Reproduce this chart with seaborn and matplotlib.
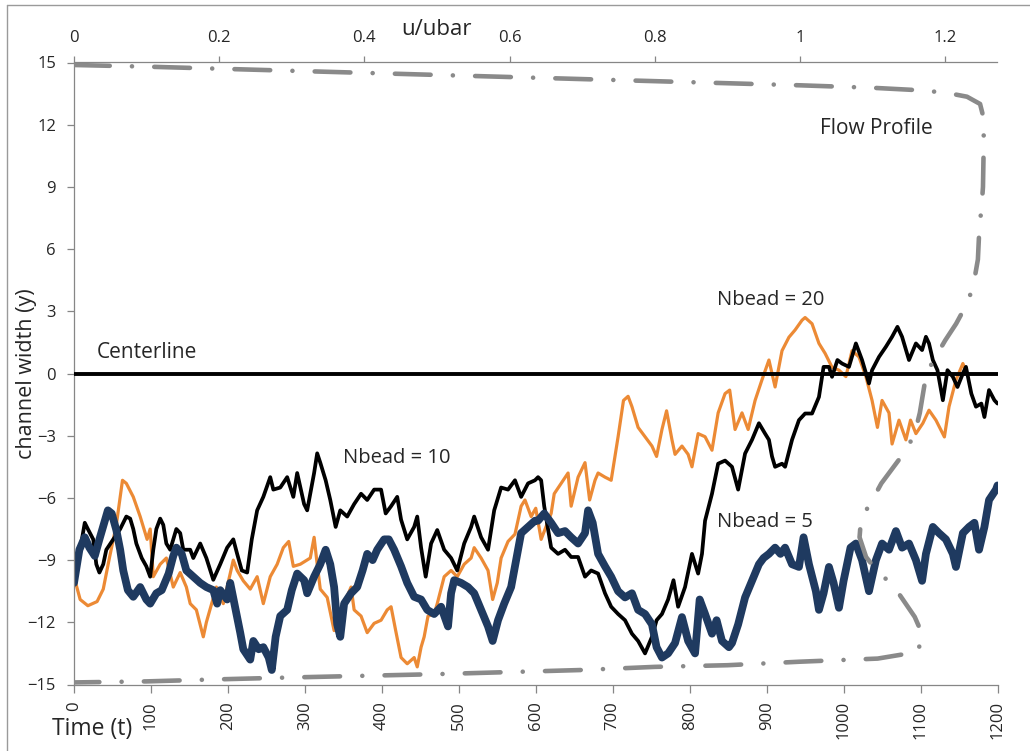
import numpy as np
import pandas as pd
import matplotlib
matplotlib.use("Agg")
import matplotlib.pyplot as plt
from matplotlib.lines import Line2D
import seaborn as sns

# ---------------- data ----------------
t_n20 = [0, 8, 18, 30, 38, 46, 55, 63, 68, 77, 86, 95, 99, 103, 112, 120, 129, 138, 146, 151, 159, 168, 172,
         185, 194, 207, 212, 220, 229, 238, 246, 255, 264, 272, 279, 285, 294, 307, 312, 316, 320, 329, 338,
         342, 351, 360, 364, 373, 381, 390, 399, 407, 412, 418, 425, 433, 442, 446, 451, 455, 460, 468, 472,
         481, 490, 498, 507, 516, 520, 529, 538, 544, 550, 555, 564, 573, 581, 586, 594, 600, 607, 620, 624,
         633, 642, 646, 655, 664, 670, 677, 681, 690, 698, 707, 714, 720, 725, 733, 742, 751, 757, 764, 770,
         777, 781, 790, 798, 803, 811, 820, 829, 837, 846, 852, 859, 868, 876, 885, 894, 903, 911, 920, 929,
         937, 946, 950, 959, 968, 976, 985, 994, 1003, 1011, 1020, 1029, 1037, 1044, 1050, 1059, 1063, 1072,
         1081, 1087, 1094, 1103, 1111, 1120, 1131, 1137, 1146, 1155, 1158]
y_n20 = [-9.8, -10.9, -11.2, -11.0, -10.4, -8.9, -7.3, -5.15, -5.3, -5.95, -6.9, -8.0, -7.5, -9.8, -9.2, -8.9,
         -10.3, -9.6, -10.3, -11.1, -11.4, -12.7, -12.0, -10.3, -11.1, -9.0, -9.5, -10.0, -10.4, -9.8, -11.1,
         -9.8, -9.2, -8.4, -8.1, -9.3, -9.2, -8.9, -7.9, -9.2, -10.4, -10.8, -12.4, -11.7, -11.1, -10.3, -11.4,
         -11.7, -12.5, -12.05, -11.9, -11.4, -11.25, -12.4, -13.7, -14.0, -13.7, -14.15, -13.2, -12.7, -11.7,
         -11.6, -11.1, -9.8, -9.5, -9.8, -9.2, -8.9, -8.4, -8.9, -9.5, -10.9, -10.1, -8.9, -8.1, -7.75, -6.4,
         -6.1, -6.9, -6.5, -8.0, -6.75, -5.8, -5.3, -4.8, -6.4, -5.0, -4.3, -6.1, -5.15, -4.8, -5.0, -5.15,
         -3.05, -1.3, -1.1, -1.6, -2.6, -3.05, -3.5, -4.0, -2.7, -1.8, -3.2, -3.9, -3.5, -3.9, -4.5, -2.9,
         -3.05, -3.7, -1.9, -0.97, -0.8, -2.7, -1.9, -2.7, -1.3, -0.3, 0.65, -0.65, 1.1, 1.75, 2.1, 2.57, 2.7,
         2.4, 1.45, 0.97, 0.3, 0.16, -0.15, 1.1, 0.8, -0.15, -1.3, -2.6, -1.3, -1.9, -3.4, -2.25, -3.2, -2.25,
         -2.9, -2.4, -1.77, -2.25, -3.06, -1.6, -0.32, 0.48, 0.2]

t_n10 = [0, 7, 14, 18, 25, 29, 33, 38, 42, 51, 60, 68, 73, 77, 81, 88, 94, 99, 103, 107, 112, 116, 120, 125,
         133, 138, 142, 151, 155, 164, 172, 181, 190, 199, 207, 212, 218, 225, 231, 238, 246, 255, 259, 268,
         277, 285, 290, 299, 303, 312, 316, 320, 327, 333, 340, 346, 355, 364, 373, 381, 390, 399, 405, 412,
         420, 425, 433, 442, 446, 451, 457, 464, 472, 481, 490, 498, 507, 516, 520, 529, 538, 546, 555, 564,
         573, 581, 590, 599, 603, 607, 611, 620, 629, 638, 646, 655, 664, 672, 681, 690, 698, 707, 716, 725,
         733, 742, 751, 757, 764, 772, 779, 785, 794, 803, 811, 816, 820, 829, 837, 846, 855, 863, 872, 881,
         890, 898, 903, 907, 911, 920, 924, 933, 942, 950, 959, 968, 974, 981, 985, 992, 998, 1007, 1016,
         1024, 1033, 1037, 1046, 1055, 1063, 1070, 1076, 1085, 1094, 1102, 1107, 1111, 1116, 1122, 1129,
         1135, 1142, 1148, 1155, 1159, 1166, 1172, 1179, 1183, 1189, 1196, 1200]
y_n10 = [-9.8, -8.7, -7.2, -7.5, -8.0, -9.2, -9.6, -9.2, -8.5, -8.0, -7.5, -6.9, -7.0, -7.5, -8.2, -8.9,
         -9.3, -9.8, -8.5, -7.5, -7.0, -7.3, -8.2, -8.5, -7.5, -7.7, -8.5, -8.5, -8.9, -8.2, -8.9, -9.95,
         -9.2, -8.4, -8.0, -8.7, -9.5, -9.6, -8.0, -6.6, -5.95, -5.0, -5.6, -5.5, -5.0, -5.95, -4.8, -6.3,
         -6.6, -4.8, -3.85, -4.3, -5.15, -6.1, -7.4, -6.6, -6.9, -6.3, -5.8, -6.1, -5.6, -5.6, -6.75, -6.4,
         -5.95, -7.05, -8.0, -7.4, -6.9, -8.4, -9.8, -8.2, -7.55, -8.5, -8.9, -9.5, -8.2, -7.4, -6.9, -7.9,
         -8.5, -6.6, -5.5, -5.6, -5.15, -5.95, -5.3, -5.15, -5.0, -5.15, -6.4, -8.4, -8.7, -8.5, -8.85, -8.85,
         -9.8, -9.5, -9.65, -10.6, -11.25, -11.6, -11.9, -12.55, -12.9, -13.5, -12.7, -11.9, -11.6, -10.9,
         -9.97, -11.25, -10.3, -8.7, -9.65, -8.7, -7.1, -5.8, -4.35, -4.2, -4.5, -5.6, -3.86, -3.2, -2.4,
         -2.9, -3.2, -4.0, -4.5, -4.35, -4.5, -3.2, -2.25, -1.93, -1.93, -1.13, 0.32, 0.32, -0.16, 0.65, 0.48,
         0.32, 1.45, 0.65, -0.48, 0.16, 0.8, 1.29, 1.77, 2.25, 1.77, 0.65, 1.45, 1.13, 1.77, 1.45, 0.65, 0.16,
         -1.29, 0.16, -0.16, -0.65, 0.0, 0.32, -0.97, -1.6, -1.45, -2.1, -0.8, -1.29, -1.45]

t_n5 = [0, 7, 14, 20, 27, 33, 40, 44, 49, 55, 60, 64, 70, 77, 86, 94, 99, 107, 114, 123, 129, 133, 140, 146,
        155, 164, 172, 181, 186, 190, 199, 203, 210, 216, 220, 229, 233, 240, 246, 253, 257, 262, 268, 277,
        283, 290, 299, 303, 312, 320, 327, 333, 338, 342, 346, 351, 360, 368, 375, 381, 388, 394, 403, 409,
        416, 425, 433, 442, 451, 459, 468, 477, 486, 490, 494, 503, 512, 520, 529, 538, 544, 551, 559, 568,
        577, 581, 590, 599, 603, 611, 620, 629, 638, 646, 655, 664, 668, 674, 681, 690, 698, 707, 716, 725,
        733, 742, 751, 757, 764, 772, 781, 790, 798, 807, 813, 820, 829, 835, 842, 851, 855, 863, 872, 881,
        890, 896, 903, 911, 918, 924, 933, 942, 948, 955, 964, 968, 974, 981, 987, 994, 1000, 1009, 1016,
        1024, 1033, 1042, 1050, 1059, 1068, 1076, 1085, 1094, 1102, 1107, 1116, 1124, 1133, 1142, 1146,
        1155, 1163, 1170, 1176, 1183, 1189, 1198, 1200]
y_n5 = [-10.1, -8.5, -7.9, -8.4, -8.8, -8.0, -7.1, -6.6, -6.75, -7.55, -8.5, -9.5, -10.45, -10.77, -10.3,
        -10.9, -11.1, -10.6, -10.45, -9.65, -8.8, -8.4, -8.7, -9.5, -9.8, -10.1, -10.3, -10.45, -11.1, -10.45,
        -10.9, -10.1, -11.4, -12.5, -13.3, -13.8, -12.9, -13.3, -13.2, -13.7, -14.3, -12.7, -11.7, -11.4,
        -10.45, -9.65, -9.97, -10.6, -9.8, -9.2, -8.5, -9.2, -10.3, -12.1, -12.7, -11.1, -10.6, -10.3, -9.5,
        -8.7, -9.0, -8.5, -8.0, -8.0, -8.5, -9.3, -10.1, -10.77, -10.9, -11.4, -11.6, -11.25, -12.2, -10.6,
        -9.97, -10.1, -10.3, -10.6, -11.4, -12.2, -12.9, -11.9, -11.1, -10.3, -8.5, -7.7, -7.4, -7.1, -7.1,
        -6.75, -7.2, -7.7, -7.6, -7.9, -8.2, -7.7, -6.6, -7.2, -8.7, -9.3, -9.8, -10.5, -10.8, -10.6, -11.4,
        -11.6, -12.1, -13.2, -13.7, -13.5, -13.0, -11.75, -12.9, -13.5, -10.9, -11.6, -12.55, -11.9, -12.9,
        -13.2, -13.0, -12.1, -10.8, -10.0, -9.2, -8.9, -8.7, -8.4, -8.7, -8.4, -9.2, -9.33, -7.9, -9.2, -10.5,
        -11.4, -10.6, -9.33, -10.1, -11.3, -10.0, -8.4, -8.2, -9.0, -10.5, -9.0, -8.2, -8.5, -7.6, -8.4, -8.2,
        -9.0, -10.0, -8.7, -7.4, -7.7, -8.0, -8.7, -9.33, -7.7, -7.4, -7.2, -8.5, -7.4, -6.1, -5.6, -5.4]

# flow profile (u/ubar on the top axis, channel position y)
profile_u = [0.0, 0.1, 0.2, 0.3, 0.4, 0.5, 0.6, 0.7, 0.8, 0.9, 1.0, 1.1, 1.16, 1.2, 1.23, 1.248, 1.253, 1.253,
             1.252, 1.250, 1.247, 1.245, 1.240, 1.232, 1.215, 1.2, 1.185, 1.174, 1.165, 1.158, 1.146, 1.112,
             1.098, 1.084, 1.082, 1.091, 1.107, 1.128, 1.158, 1.169, 1.162, 1.107, 1.05, 1.0, 0.9, 0.8, 0.7,
             0.6, 0.5, 0.4, 0.3, 0.2, 0.1, 0.0]
profile_y = [14.88, 14.8, 14.7, 14.6, 14.5, 14.4, 14.3, 14.2, 14.1, 14.0, 13.9, 13.78, 13.67, 13.55, 13.35,
             13.0, 12.3, 11.0, 9.0, 8.0, 7.0, 5.5, 4.5, 3.5, 2.4, 1.6, 0.7, 0.0, -1.9, -2.9, -3.7, -5.3, -6.2,
             -7.0, -7.9, -8.85, -9.57, -10.2, -11.74, -12.62, -13.43, -13.75, -13.83, -13.9, -14.07, -14.15,
             -14.3, -14.4, -14.5, -14.58, -14.66, -14.75, -14.85, -14.9]

time_ticks = list(range(0, 1201, 100))
y_ticks = list(range(-15, 16, 3))
u_ticks = [0, 0.2, 0.4, 0.6, 0.8, 1.0, 1.2]
u_labels = ["0", "0.2", "0.4", "0.6", "0.8", "1", "1.2"]

# ---------------- style ----------------
sns.set_style("white")
plt.rcParams["font.family"] = ["Open Sans", "DejaVu Sans"]

GRAY = "#868686"
NAVY = "#1f3a60"
ORANGE = "#ec8a35"
TXT = "#262626"

fig = plt.figure(figsize=(10.30, 7.51), dpi=100)
ax = fig.add_axes([74 / 1030, 1 - 684.5 / 751, 923.5 / 1030, 622 / 751])

df20 = pd.DataFrame({"t": t_n20, "y": y_n20})
df10 = pd.DataFrame({"t": t_n10, "y": y_n10})
df5 = pd.DataFrame({"t": t_n5, "y": y_n5})

sns.lineplot(data=df20, x="t", y="y", ax=ax, color=ORANGE, linewidth=2.3, sort=False, estimator=None)
sns.lineplot(data=df10, x="t", y="y", ax=ax, color="black", linewidth=2.7, sort=False, estimator=None)
sns.lineplot(data=df5, x="t", y="y", ax=ax, color=NAVY, linewidth=5.6, sort=False, estimator=None)
ax.axhline(0, color="black", linewidth=2.8, zorder=5)

ax.set_xlim(0, 1200)
ax.set_ylim(-15, 15)
ax.set_xticks(time_ticks)
ax.set_xticklabels([str(v) for v in time_ticks], rotation=90)
ax.set_yticks(y_ticks)
ax.tick_params(axis="x", direction="out", length=6, width=0.9, color=GRAY, pad=6,
               labelsize=12, labelcolor=TXT, bottom=True)
ax.tick_params(axis="y", direction="out", length=5, width=0.9, color=GRAY, pad=8,
               labelsize=12, labelcolor=TXT, left=True)
for s in ["right", "top"]:
    ax.spines[s].set_visible(False)
for s in ["left", "bottom"]:
    ax.spines[s].set_color(GRAY)
    ax.spines[s].set_linewidth(0.9)

ax.set_xlabel("Time (t)", fontsize=16.5, color=TXT)
ax.xaxis.set_label_coords(0.0195, -0.052)
ax.set_ylabel("channel width (y)", fontsize=15.5, color=TXT)
ax.yaxis.set_label_coords(-0.040, 0.5)

# annotations
ax.text(969, 11.83, "Flow Profile", fontsize=15, color=TXT, ha="left", va="center")
ax.text(30, 1.03, "Centerline", fontsize=15, color=TXT, ha="left", va="center")
ax.text(835, 3.54, "Nbead = 20", fontsize=14.5, color=TXT, ha="left", va="center")
ax.text(349, -4.09, "Nbead = 10", fontsize=14.5, color=TXT, ha="left", va="center")
ax.text(835, -7.17, "Nbead = 5", fontsize=14.5, color=TXT, ha="left", va="center")

# secondary (top) axis with the flow profile
ax2 = ax.twiny()
dfp = pd.DataFrame({"u": profile_u, "y": profile_y})
sns.lineplot(data=dfp, x="u", y="y", ax=ax2, color="#8a8a8a", linewidth=3.3, sort=False, estimator=None)
pl = ax2.get_lines()[-1]
pl.set_linestyle((0, (7.8, 4.85, 0.01, 4.85)))
pl.set_dash_capstyle("round")
pl.set_solid_capstyle("round")
ax2.set_xlim(0, 1.272)
ax2.set_ylim(-15, 15)
ax2.set_xticks(u_ticks)
ax2.set_xticklabels(u_labels)
ax2.tick_params(axis="x", direction="out", length=4, width=0.9, color=GRAY, pad=8,
                labelsize=12, labelcolor=TXT, top=True)
for s in ["right", "bottom", "left"]:
    ax2.spines[s].set_visible(False)
ax2.spines["top"].set_color(GRAY)
ax2.spines["top"].set_linewidth(0.9)
ax2.set_xlabel("u/ubar", fontsize=16, color=TXT)
ax2.xaxis.set_label_coords(0.393, 1.044)
ax2.set_ylabel("")

# outer chart border (top and left edges visible in the reference)
fig.add_artist(Line2D([7 / 1030, 7 / 1030], [0, 1 - 5 / 751], transform=fig.transFigure, color="#9a9a9a", lw=1.0))
fig.add_artist(Line2D([7 / 1030, 1], [1 - 5 / 751, 1 - 5 / 751], transform=fig.transFigure, color="#9a9a9a", lw=1.0))

fig.savefig("out.png", dpi=100)
